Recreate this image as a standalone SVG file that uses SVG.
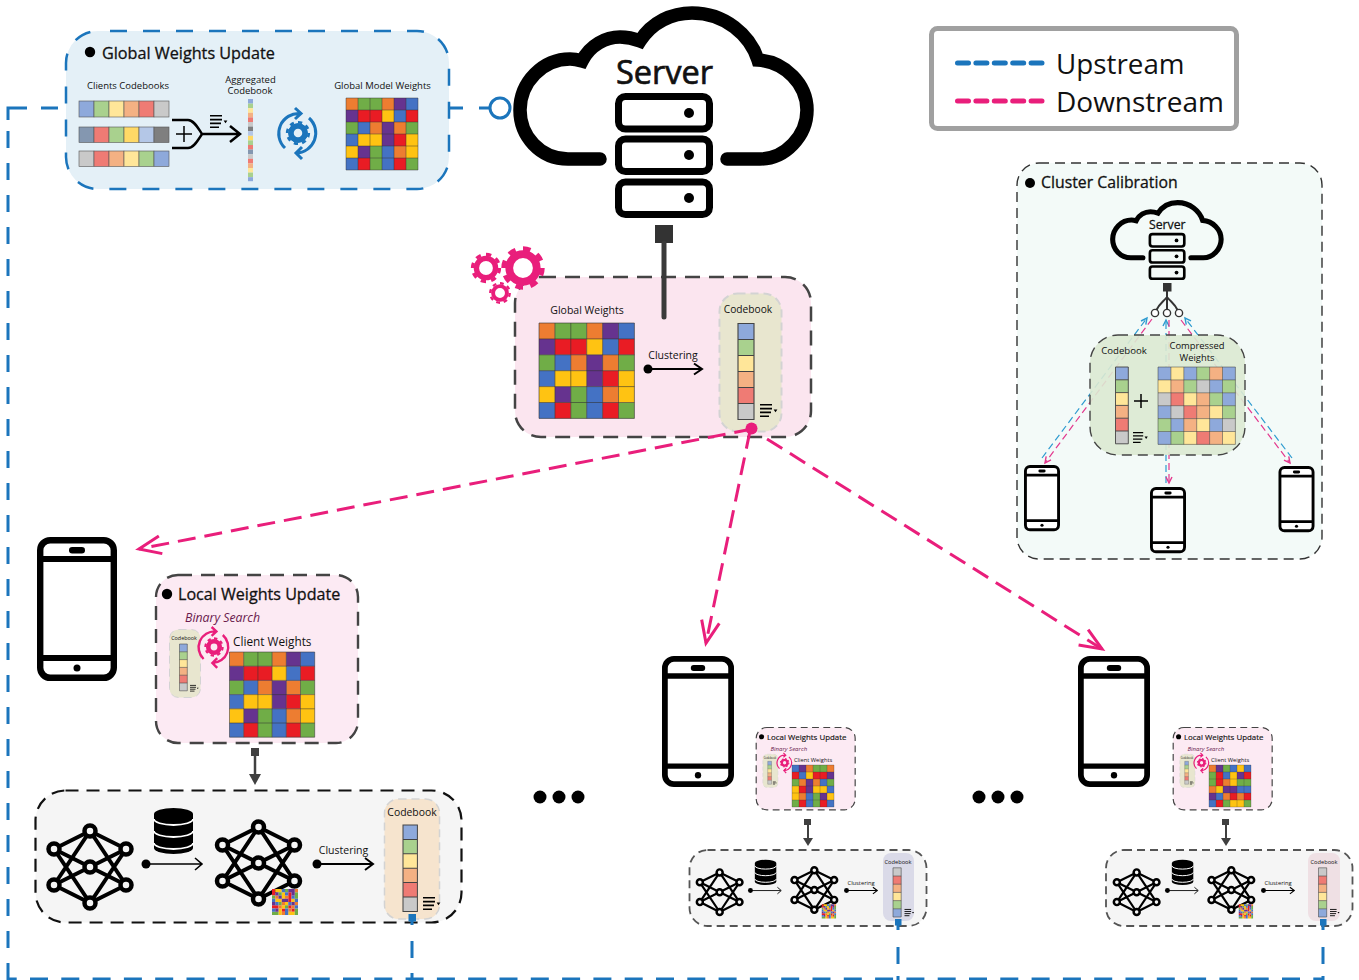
<svg xmlns="http://www.w3.org/2000/svg" xmlns:xlink="http://www.w3.org/1999/xlink" width="1359" height="980" viewBox="0 0 1359 980">
<style>
text{font-family:"Open Sans","Noto Sans","Liberation Sans",sans-serif;fill:#111}
.m{text-anchor:middle}
.h{stroke:#111;stroke-width:.3}
.O{fill:#ED7D31}.G{fill:#70AD47}.B{fill:#4472C4}.P{fill:#66338F}.R{fill:#E91C24}.Y{fill:#FFC312}
.pb{fill:#8EA9DB}.pg{fill:#A9D18E}.py{fill:#FFE699}.po{fill:#F4B183}.pr{fill:#EF7B74}.ps{fill:#C9C9C9}
.pk{fill:#8497B0}.pd{fill:#FFD966}.pl{fill:#B4C7E7}.pm{fill:#7F7F7F}
.gl{fill:none;stroke:#333;stroke-opacity:.75}
.blue{fill:none;stroke:#1B75BC;stroke-width:3;stroke-dasharray:17 15}
.pink{fill:none;stroke:#E91E7B;stroke-width:3;stroke-dasharray:18 9}
.tb{fill:none;stroke:#2E9BD0;stroke-width:1.2;stroke-dasharray:7 4}
.tp{fill:none;stroke:#E3388E;stroke-width:1.2;stroke-dasharray:7 4}
.cb{stroke:#D3D3D3;stroke-dasharray:8 5}
</style>
<defs>
<marker id="mp" markerUnits="userSpaceOnUse" markerWidth="32" markerHeight="32" refX="24" refY="13" orient="auto"><path d="M2 4L24 13L2 22" fill="none" stroke="#E91E7B" stroke-width="3"/></marker>
<marker id="tp" markerUnits="userSpaceOnUse" markerWidth="10" markerHeight="10" refX="7" refY="4" orient="auto"><path d="M1 1L7 4L1 7" fill="none" stroke="#E3388E" stroke-width="1.4"/></marker>
<marker id="tb" markerUnits="userSpaceOnUse" markerWidth="10" markerHeight="10" refX="7" refY="4" orient="auto"><path d="M1 1L7 4L1 7" fill="none" stroke="#2E9BD0" stroke-width="1.4"/></marker>
<g id="lines"><path class="gl" stroke-width=".05" d="M0 0h6v6H0zM1 0v6M2 0v6M3 0v6M4 0v6M5 0v6M0 1h6M0 2h6M0 3h6M0 4h6M0 5h6"/></g>
<g id="g1">
<path class="O" d="M0 0h1v1h-1zM3 0h1v1h-1zM2 2h1v1h-1zM4 2h1v1h-1zM4 4h1v1h-1z"/>
<path class="G" d="M1 0h2v1h-2zM0 2h1v1h-1zM5 2h1v1h-1zM2 4h1v2h-1zM5 5h1v1h-1z"/>
<path class="B" d="M5 0h1v1h-1zM4 1h1v1h-1zM1 2h1v1h-1zM0 3h1v1h-1zM3 4h1v2h-1zM0 5h1v1h-1z"/>
<path class="P" d="M4 0h1v1h-1zM0 1h1v1h-1zM3 2h1v2h-1zM1 4h1v1h-1z"/>
<path class="R" d="M1 1h2v1h-2zM5 1h1v1h-1zM4 3h1v1h-1zM1 5h1v1h-1zM4 5h1v1h-1z"/>
<path class="Y" d="M3 1h1v1h-1zM1 3h2v1h-2zM5 3h1v2h-1zM0 4h1v1h-1z"/>
<use href="#lines"/>
</g>
<g id="g3">
<path class="O" d="M0 0h1v1h-1zM2 2h1v1h-1zM0 3h1v1h-1zM2 4h1v1h-1zM4 4h1v1h-1z"/>
<path class="P" d="M1 0h1v1h-1zM4 1h1v1h-1zM2 3h2v1h-2zM0 4h1v1h-1z"/>
<path class="G" d="M2 0h1v1h-1zM0 1h1v2h-1zM4 2h2v1h-2zM2 5h1v1h-1zM5 5h1v1h-1z"/>
<path class="B" d="M3 0h1v1h-1zM5 0h1v1h-1zM2 1h1v1h-1zM4 3h2v1h-2zM1 4h1v1h-1zM0 5h1v1h-1z"/>
<path class="Y" d="M4 0h1v1h-1zM3 1h1v2h-1zM1 3h1v1h-1zM3 5h2v1h-2z"/>
<path class="R" d="M1 1h1v2h-1zM5 1h1v1h-1zM3 4h1v1h-1zM5 4h1v1h-1zM1 5h1v1h-1z"/>
<use href="#lines"/>
</g>
<g id="gc">
<path class="pb" d="M0 0h1v1h-1zM2 0h1v1h-1zM5 0h1v1h-1zM4 1h1v1h-1zM5 2h1v1h-1zM0 3h1v1h-1zM1 4h1v1h-1zM4 4h1v1h-1zM0 5h1v1h-1z"/>
<path class="py" d="M1 0h1v1h-1zM0 1h1v1h-1zM2 2h1v1h-1zM4 3h1v1h-1zM3 4h1v1h-1zM2 5h1v1h-1zM5 5h1v1h-1z"/>
<path class="pg" d="M3 0h1v1h-1zM2 1h1v1h-1zM5 1h1v1h-1zM4 2h1v1h-1zM5 3h1v1h-1zM0 4h1v1h-1zM1 5h1v1h-1z"/>
<path class="po" d="M4 0h1v1h-1zM1 1h1v1h-1zM3 2h1v2h-1zM2 4h1v1h-1zM4 5h1v1h-1z"/>
<path class="ps" d="M3 1h1v1h-1zM0 2h1v1h-1zM1 3h1v1h-1zM5 4h1v1h-1z"/>
<path class="pr" d="M1 2h1v1h-1zM2 3h1v1h-1zM3 5h1v1h-1z"/>
<use href="#lines"/>
</g>
<g id="gs">
<path class="R" d="M0 0h1v2h-1zM5 1h1v3h-1zM0 5h2v1h-2zM5 5h1v1h-1zM3 6h1v1h-1zM6 6h1v1h-1z"/>
<path class="Y" d="M1 0h2v1h-2zM3 1h1v2h-1zM1 3h2v1h-2zM6 3h1v1h-1zM4 4h1v1h-1zM3 5h1v1h-1zM2 6h1v2h-1zM5 7h2v1h-2z"/>
<path class="G" d="M4 0h1v1h-1zM2 1h1v1h-1zM7 1h1v2h-1zM0 2h1v1h-1zM2 4h1v1h-1zM4 5h1v1h-1zM7 6h1v2h-1zM0 7h2v1h-2z"/>
<path class="O" d="M7 0h1v1h-1zM1 2h1v1h-1zM4 2h1v1h-1zM3 4h1v1h-1zM7 4h1v1h-1zM2 5h1v1h-1zM6 5h1v1h-1zM5 6h1v1h-1zM3 7h1v1h-1z"/>
<path class="B" d="M3 0h1v1h-1zM4 1h1v1h-1zM6 2h1v1h-1zM0 3h1v1h-1zM7 3h1v1h-1zM1 4h1v1h-1zM5 4h1v1h-1zM7 5h1v1h-1zM0 6h1v1h-1zM4 6h1v2h-1z"/>
<path class="P" d="M5 0h2v1h-2zM1 1h1v1h-1zM6 1h1v1h-1zM2 2h1v1h-1zM3 3h2v1h-2zM0 4h1v1h-1zM6 4h1v1h-1zM1 6h1v1h-1z"/>
</g>
<g id="strip">
<rect class="pb" width="1" height="1"/><rect class="pg" y="1" width="1" height="1"/><rect class="py" y="2" width="1" height="1"/><rect class="po" y="3" width="1" height="1"/><rect class="pr" y="4" width="1" height="1"/><rect class="ps" y="5" width="1" height="1"/>
<path fill="none" stroke="#444" stroke-width=".07" d="M0 0h1v6H0zM0 1h1M0 2h1M0 3h1M0 4h1M0 5h1"/>
</g>
<g id="sort"><path fill="none" stroke="#000" stroke-width="1.6" d="M0 .8h12M0 4.6h12M0 8.4h11M0 12.2h9"/><path d="M13.6 5.4h3.8l-1.9 2.8z"/></g>
<g id="gear" fill="none"><circle r="6.4" stroke-width="3.6"/><circle r="9" stroke-width="2.2" pathLength="16" stroke-dasharray="1 1"/></g>
<g id="sync" fill="none" stroke-width="3">
<use href="#gear" transform="scale(1.2)"/>
<circle r="7" stroke-width="5.500"/>
<path d="M-13 15A20 20 0 0 1 2-19.5M-3-25L3-19.5L-3-14M11-15A20 20 0 0 1-2 20M4 14L-2 20L4 26"/>
</g>
<g id="phone"><rect x="3.2" y="3.2" width="73.6" height="137.6" rx="10" fill="#fff" stroke="#000" stroke-width="6.4"/><path d="M3 22H77M3 121H77" stroke="#000" stroke-width="6"/><rect x="32" y="10" width="16" height="6.5" rx="3.2"/><circle cx="40" cy="131" r="3.5"/></g>
<g id="server">
<path fill="none" stroke="#000" stroke-width="13.5" stroke-linecap="round" d="M600 159H568C540 159 520 136 520 110C520 82 543 59 570 59Q575 59 582 61C590 45 606 37 620 37Q630 37 640 41C652 22 672 13 692 13C725 13 750 35 758 60C785 62 807 84 807 110C807 136 785 159 760 159H727"/>
<g fill="none" stroke="#000" stroke-width="7"><rect x="618.5" y="96.5" width="91" height="32.5" rx="7"/><rect x="618.5" y="139" width="91" height="32.5" rx="7"/><rect x="618.5" y="182" width="91" height="32.5" rx="7"/></g>
<circle cx="689" cy="113" r="5"/><circle cx="689" cy="155" r="5"/><circle cx="689" cy="198" r="5"/>
<text x="664.5" y="84" class="m" font-size="32.500" stroke="#111" stroke-width=".7">Server</text>
</g>
<g id="nn" fill="#F5F5F5">
<path fill="none" stroke="#000" stroke-width="4" d="M0-36L-36-18M0-36L36-18M0 36L-36 18M0 36L36 18M0-36L-36 18M0-36L36 18M0 36L-36-18M0 36L36-18M-36-18L36 18M36-18L-36 18"/>
<g stroke="#000" stroke-width="4.5"><circle cy="-36" r="5.5"/><circle cx="-36" cy="-18" r="5.5"/><circle cx="36" cy="-18" r="5.5"/><circle r="5.5"/><circle cx="-36" cy="18" r="5.5"/><circle cx="36" cy="18" r="5.5"/><circle cy="36" r="5.5"/></g>
</g>
<g id="db"><path d="M0 6a19.5 6 0 0 1 39 0v34a19.5 6 0 0 1-39 0z"/><path fill="none" stroke="#fff" stroke-width="1.8" d="M0 11a19.5 6 0 0 0 39 0M0 23a19.5 6 0 0 0 39 0M0 35a19.5 6 0 0 0 39 0"/></g>
<g id="nnA">
<use href="#nn" transform="translate(90 867)"/>
<use href="#db" transform="translate(154 808)"/>
<circle cx="146" cy="864" r="4.5"/>
<path fill="none" stroke="#000" stroke-width="1.6" d="M146 864H201M195 858L202 864L195 870"/>
</g>
<g id="nnB">
<use href="#nn" transform="translate(258.5 863)"/>
<use href="#gs" transform="translate(272 889) scale(3.25)"/>
<circle cx="317" cy="864" r="4.5"/>
<path fill="none" stroke="#000" stroke-width="2" d="M317 864H372M365 858L373 864L365 870"/>
<text x="343.500" y="853.500" class="m" font-size="10.500">Clustering</text>
</g>
<g id="localbase">
<rect x="156" y="575" width="202" height="168" rx="22" fill="#FCEAF3" stroke="#444" stroke-width="2.400" stroke-dasharray="14 9"/>
<circle cx="167" cy="594" r="5.200"/>
<text x="178" y="600" font-size="16.100" class="h">Local Weights Update</text>
<text x="185" y="622" font-size="12.300" font-style="italic" style="fill:#6A1B4D">Binary Search</text>
<rect x="169.500" y="629.500" width="31" height="68" rx="9" fill="#E8E6CF" class="cb"/>
<text x="184" y="639.500" class="m" font-size="5.400">Codebook</text>
<use href="#strip" transform="translate(179.500 644) scale(7.800)"/>
<use href="#sort" transform="translate(190 685) scale(.5)"/>
<use href="#sync" transform="translate(214 647) scale(.8)" stroke="#E91E7B"/>
<text x="233" y="646" font-size="11.800">Client Weights</text>
</g>
</defs>

<rect width="1359" height="980" fill="#fff"/>

<g id="cluster-calibration">
<rect x="1017" y="163" width="305" height="396" rx="22" fill="#F3FAF8" stroke="#333" stroke-width="1.400" stroke-dasharray="10 6"/>
<circle cx="1030" cy="183" r="5"/>
<text x="1041" y="188" font-size="15.800" class="h">Cluster Calibration</text>
</g>

<g id="central-codebook">
<rect x="515" y="277" width="296" height="160" rx="26" fill="#FBE5EF" stroke="#444" stroke-width="2.500" stroke-dasharray="15 9"/>
<text x="587" y="314" class="m" font-size="10.500">Global Weights</text>
<use href="#g1" transform="translate(539 323) scale(15.900)"/>
<text x="673" y="359" class="m" font-size="10.500">Clustering</text>
<circle cx="648" cy="369" r="4.500"/>
<path fill="none" stroke="#000" stroke-width="2" d="M648 369H701M694 363.500L702 369L694 374.500"/>
<rect x="719.500" y="293.500" width="62" height="138" rx="18" fill="#E8E6CF" class="cb" stroke-width="2"/>
<text x="748" y="313" class="m" font-size="10.200">Codebook</text>
<use href="#strip" transform="translate(738 323.500) scale(16)"/>
<use href="#sort" transform="translate(760 404)"/>
<g stroke="#E91E7B"><use href="#gear" transform="translate(523 268) scale(2.150)"/><use href="#gear" transform="translate(486 268) scale(1.500)"/><use href="#gear" transform="translate(500 293) scale(1.080)"/></g>
</g>

<g id="client-1-model">
<rect x="35.500" y="790.500" width="426" height="132" rx="30" fill="#F5F5F5" stroke="#111" stroke-width="2.200" stroke-dasharray="13 8"/>
<use href="#nnA"/><use href="#nnB"/>
<rect x="384.500" y="799" width="55" height="120" rx="14" fill="#F6E4CE" class="cb" stroke-width="1.500"/>
<text x="412" y="816" class="m" font-size="10.400">Codebook</text>
<use href="#strip" transform="translate(403 825) scale(14.400)"/>
<use href="#sort" transform="translate(423 897)"/>
</g>
<g id="client-2-model">
<rect x="689.500" y="850" width="237" height="76" rx="18" fill="#F5F5F5" stroke="#555" stroke-width="1.800" stroke-dasharray="8 5"/>
<use href="#nnA" transform="translate(670.150 415.350) scale(.55)"/>
<use href="#nnB" transform="translate(672.150 415.350) scale(.55)"/>
<rect x="883" y="853" width="31" height="68" rx="8" fill="#DADAE8"/>
<text x="898" y="863.500" class="m" font-size="5.700">Codebook</text>
<use href="#strip" transform="translate(893 917) scale(8.200 -8.200)"/>
<use href="#sort" transform="translate(904.500 909) scale(.55)"/>
</g>
<g id="client-3-model">
<rect x="1106" y="850" width="246.500" height="76" rx="18" fill="#F5F5F5" stroke="#555" stroke-width="1.800" stroke-dasharray="8 5"/>
<use href="#nnA" transform="translate(1087.150 415.350) scale(.55)"/>
<use href="#nnB" transform="translate(1089.150 415.350) scale(.55)"/>
<rect x="1308" y="853" width="32" height="68" rx="8" fill="#EFE0E4"/>
<text x="1324" y="863.500" class="m" font-size="5.700">Codebook</text>
<use href="#strip" transform="translate(1318.500 917) scale(8.200 -8.200)"/>
<use href="#sort" transform="translate(1330 909) scale(.55)"/>
</g>

<g id="connectors">
<path fill="none" stroke="#1B75BC" stroke-width="3" d="M58 108H41M27 108H8V120"/>
<path class="blue" d="M8 131V980"/>
<path class="blue" style="stroke-dasharray:18 13.300;stroke-dashoffset:9.300" d="M8 979H1323"/>
<path fill="none" stroke="#1B75BC" stroke-width="3" stroke-dasharray="14 16" d="M449 108H490"/>
<circle cx="500" cy="108" r="10" fill="#fff" stroke="#1B75BC" stroke-width="3"/>
<g fill="#1B75BC">
<rect x="408.500" y="914" width="7.500" height="7.500"/><rect x="895" y="919" width="6.500" height="6.500"/><rect x="1320" y="919" width="6.500" height="6.500"/>
</g>
<path fill="none" stroke="#1B75BC" stroke-width="3" stroke-dasharray="4 16 17 15 17" d="M412 921V980"/>
<path fill="none" stroke="#1B75BC" stroke-width="3" stroke-dasharray="5 17 17 12 17" d="M898 925V980"/>
<path fill="none" stroke="#1B75BC" stroke-width="3" stroke-dasharray="5 17 17 12 17" d="M1323 925V980"/>
<path class="pink" d="M752 429L139 549" marker-end="url(#mp)"/>
<path class="pink" d="M750 431L706 643" marker-end="url(#mp)"/>
<path class="pink" d="M767 439L1102 649" marker-end="url(#mp)"/>
<circle cx="751.500" cy="428.500" r="6" fill="#E91E7B"/>
<rect x="655" y="225" width="18" height="18" fill="#333"/>
<path d="M664 243V317" stroke="#3A3A3A" stroke-width="5" stroke-linecap="round"/>
<g stroke="#404040" fill="#404040"><rect x="251" y="748" width="8" height="8" stroke="none"/><path d="M255 755V776" stroke-width="2.500"/><path d="M249 774H261L255 785z" stroke="none"/>
<rect x="804" y="819" width="7" height="6" stroke="none"/><path d="M808 825V840" stroke-width="2"/><path d="M803 838H813L808 846z" stroke="none"/>
<rect x="1222" y="819" width="7" height="6" stroke="none"/><path d="M1226 825V840" stroke-width="2"/><path d="M1221 838H1231L1226 846z" stroke="none"/></g>
<path class="tb" d="M1042 458L1147 318" marker-end="url(#tb)"/>
<path class="tp" d="M1152 319L1045 463" marker-end="url(#tp)"/>
<path class="tb" d="M1166 483V320" marker-end="url(#tb)"/>
<path class="tp" d="M1169 320V483" marker-end="url(#tp)"/>
<path class="tb" d="M1292 458L1185 318" marker-end="url(#tb)"/>
<path class="tp" d="M1181 320L1290 463" marker-end="url(#tp)"/>
</g>

<g id="global-weights-update">
<rect x="66" y="31" width="383" height="158" rx="32" fill="#E4F0F7" stroke="#1B75BC" stroke-width="2.500" stroke-dasharray="17 16" stroke-dashoffset="-12"/>
<circle cx="90" cy="52" r="5.200"/>
<text x="102" y="59" font-size="16.200" class="h">Global Weights Update</text>
<text x="128" y="89" class="m" font-size="9.500">Clients Codebooks</text>
<g stroke="#555" stroke-width=".6">
<rect class="pb" x="79" y="101" width="15" height="16"/><rect class="pg" x="94" y="101" width="15" height="16"/><rect class="py" x="109" y="101" width="15" height="16"/><rect class="po" x="124" y="101" width="15" height="16"/><rect class="pr" x="139" y="101" width="15" height="16"/><rect class="ps" x="154" y="101" width="15" height="16"/>
<rect class="pk" x="79" y="127" width="15" height="15.500"/><rect class="pr" x="94" y="127" width="15" height="15.500"/><rect class="pg" x="109" y="127" width="15" height="15.500"/><rect class="pd" x="124" y="127" width="15" height="15.500"/><rect class="pl" x="139" y="127" width="15" height="15.500"/><rect class="pm" x="154" y="127" width="15" height="15.500"/>
<rect class="ps" x="79" y="151" width="15" height="15.500"/><rect class="pr" x="94" y="151" width="15" height="15.500"/><rect class="po" x="109" y="151" width="15" height="15.500"/><rect class="py" x="124" y="151" width="15" height="15.500"/><rect class="pg" x="139" y="151" width="15" height="15.500"/><rect class="pb" x="154" y="151" width="15" height="15.500"/>
</g>
<path fill="none" stroke="#000" stroke-width="2.500" d="M172 120H188C194 120 198 128 202 134C198 140 194 148 188 148H172M202 134H239M230 126L240 134L230 142"/>
<path fill="none" stroke="#000" stroke-width="1.500" d="M176 134H192M184 126V142"/>
<use href="#sort" transform="translate(210 115)"/>
<text x="250.500" y="83" class="m" font-size="9.500">Aggregated</text>
<text x="250" y="94" class="m" font-size="9.500">Codebook</text>
<g>
<rect class="pb" x="248" y="99" width="5" height="4.600"/><rect class="pg" x="248" y="103.600" width="5" height="4.600"/><rect class="py" x="248" y="108.200" width="5" height="4.600"/><rect class="po" x="248" y="112.800" width="5" height="4.600"/><rect class="pr" x="248" y="117.400" width="5" height="4.600"/><rect class="ps" x="248" y="122" width="5" height="4.600"/><rect class="pm" x="248" y="126.600" width="5" height="4.600"/><rect class="pl" x="248" y="131.200" width="5" height="4.600"/><rect class="pd" x="248" y="135.800" width="5" height="4.600"/><rect class="pg" x="248" y="140.400" width="5" height="4.600"/><rect class="pr" x="248" y="145" width="5" height="4.600"/><rect class="pk" x="248" y="149.600" width="5" height="4.600"/><rect class="ps" x="248" y="154.200" width="5" height="4.600"/><rect class="pr" x="248" y="158.800" width="5" height="4.600"/><rect class="po" x="248" y="163.400" width="5" height="4.600"/><rect class="py" x="248" y="168" width="5" height="4.600"/><rect class="pg" x="248" y="172.600" width="5" height="4.600"/><rect class="pb" x="248" y="177.200" width="5" height="4"/>
</g>
<use href="#sync" transform="translate(298 133)" stroke="#1B75BC"/>
<text x="382.500" y="89" class="m" font-size="9.500">Global Model Weights</text>
<use href="#g1" transform="translate(346 98) scale(12)"/>
</g>

<g id="server-main"><use href="#server"/></g>

<g id="legend">
<rect x="931.500" y="28.500" width="305" height="100" rx="6" fill="#fff" stroke="#A0A0A0" stroke-width="5"/>
<path d="M957.500 63H1042" fill="none" stroke="#1B75BC" stroke-width="5" stroke-linecap="round" stroke-dasharray="11 7.400"/>
<path d="M957.500 101H1042" fill="none" stroke="#E91E7B" stroke-width="5" stroke-linecap="round" stroke-dasharray="11 7.400"/>
<text x="1056" y="74" font-size="27.800">Upstream</text>
<text x="1056" y="112" font-size="28">Downstream</text>
</g>

<g id="calibration-server">
<use href="#server" transform="translate(916.100 197.700) scale(.378)"/>
<rect x="1163" y="283" width="8.500" height="8.500" fill="#333"/>
<path fill="none" stroke="#333" stroke-width="2" d="M1167 291V309M1167 297C1163 302 1159 304 1156.500 310M1167 297C1171 302 1175 304 1177.500 310"/>
<g fill="#fff" stroke="#333" stroke-width="1.400"><circle cx="1155" cy="313" r="3.600"/><circle cx="1167" cy="313" r="3.600"/><circle cx="1179" cy="313" r="3.600"/></g>
</g>

<g id="calibration-payload">
<rect x="1090" y="335" width="155" height="120" rx="28" fill="#DCE9D2" fill-opacity=".9" stroke="#444" stroke-width="1.400" stroke-dasharray="10 6"/>
<text x="1124" y="354" class="m" font-size="9.600">Codebook</text>
<text x="1197" y="349" class="m" font-size="9.400">Compressed</text>
<text x="1197" y="361" class="m" font-size="9.400">Weights</text>
<use href="#strip" transform="translate(1115.500 367) scale(12.800)"/>
<path fill="none" stroke="#000" stroke-width="1.500" d="M1134 401H1148M1141 394V408"/>
<use href="#sort" transform="translate(1133 432) scale(.85)"/>
<use href="#gc" transform="translate(1158 367) scale(12.900)"/>
</g>

<g id="calibration-phones">
<use href="#phone" transform="translate(1024 465) scale(.45 .46)"/>
<use href="#phone" transform="translate(1150 487) scale(.45 .46)"/>
<use href="#phone" transform="translate(1278.500 466) scale(.45 .46)"/>
</g>

<g id="client-1">
<use href="#phone" transform="translate(37 537)"/>
<use href="#localbase"/>
<use href="#g1" transform="translate(229.500 652) scale(14.200)"/>
</g>
<g id="client-2">
<use href="#phone" transform="translate(662 656) scale(.9 .91)"/>
<use href="#localbase" transform="translate(679.750 445.740) scale(.49)"/>
<use href="#g1" transform="translate(834 765) scale(-7 7)"/>
</g>
<g id="client-3">
<use href="#phone" transform="translate(1078 656) scale(.9 .91)"/>
<use href="#localbase" transform="translate(1096.750 445.740) scale(.49)"/>
<use href="#g3" transform="translate(1209 765) scale(7)"/>
</g>

<g id="ellipsis-1"><circle cx="540" cy="797" r="6.500"/><circle cx="559" cy="797" r="6.500"/><circle cx="578" cy="797" r="6.500"/></g>
<g id="ellipsis-2"><circle cx="979" cy="797" r="6.500"/><circle cx="998" cy="797" r="6.500"/><circle cx="1017" cy="797" r="6.500"/></g>
</svg>
